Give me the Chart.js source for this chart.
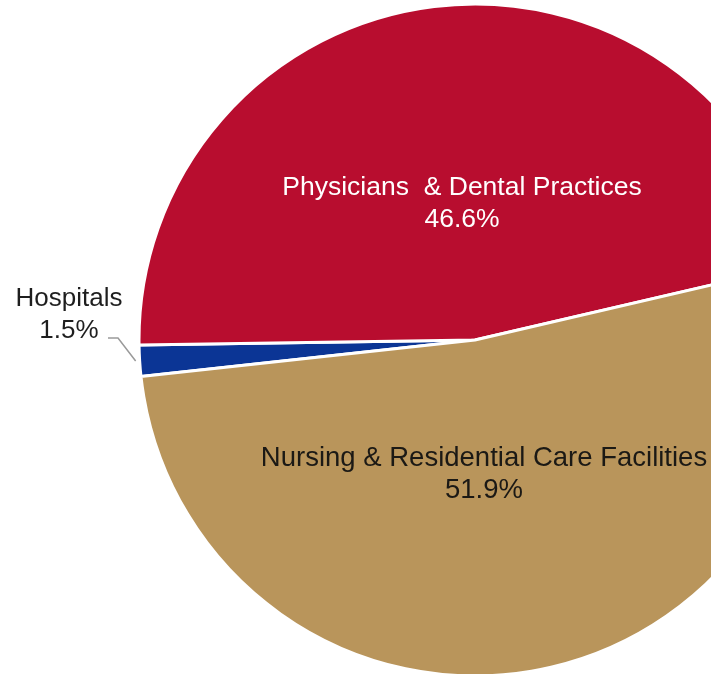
<!DOCTYPE html>
<html>
<head>
<meta charset="utf-8">
<title>Share by provider type</title>
<script src="https://cdn.jsdelivr.net/npm/chart.js@4.4.1/dist/chart.umd.min.js"></script>
<style>
    html, body {
        margin: 0;
        padding: 0;
        width: 711px;
        height: 674px;
        overflow: hidden;
        background: #ffffff;
    }
    .pie-wrap {
        position: absolute;
        left: 0;
        top: 0;
    }
</style>
</head>
<body>
<div class="pie-wrap">
    <canvas id="providerPie" width="950" height="680"></canvas>
</div>
<script>
// Provider categories and their shares (%)
const categories = ['Hospitals', 'Physicians & Dental Practices', 'Nursing & Residential Care Facilities'];
const shares = [1.5, 46.6, 51.9];
const sliceColors = ['#0b3595', '#b80d2f', '#b9955b'];

// Label text per slice: name lines, then the share
const labelLines = [
    ['Hospitals'],
    ['Physicians  & Dental Practices'],
    ['Nursing & Residential Care Facilities']
];

// where each label sits, relative to the pie centre (px)
const labelLayout = [
    { dx: -406, dy: -34, color: '#1e1e1e', size: 26 },
    { dx: -13, dy: -145, color: '#ffffff', size: 26.5 },
    { dx: 9, dy: 126, color: '#1b1915', size: 27.5 }
];

const lineGap = 32;

// Draws the slice labels and the leader line for the small slice
const sliceLabels = {
    id: 'sliceLabels',
    afterDatasetsDraw(chart) {
        const { ctx } = chart;
        const arcs = chart.getDatasetMeta(0).data;
        const cx = arcs[0].x;
        const cy = arcs[0].y;

        ctx.save();
        ctx.textAlign = 'center';
        ctx.textBaseline = 'alphabetic';

        labelLayout.forEach((pos, i) => {
            const x = cx + pos.dx;
            let y = cy + pos.dy;
            ctx.fillStyle = pos.color;
            ctx.font = `${pos.size}px "Liberation Sans", Arial, sans-serif`;
            labelLines[i].forEach(line => {
                ctx.fillText(line, x, y);
                y += lineGap;
            });
            ctx.fillText(shares[i].toFixed(1) + '%', x, y);
        });

        // leader from the Hospitals label to its slice
        const r = arcs[0].outerRadius + 4;
        const mid = (arcs[0].startAngle + arcs[0].endAngle) / 2;
        const tipX = cx + Math.cos(mid) * r;
        const tipY = cy + Math.sin(mid) * r;
        const startX = cx + labelLayout[0].dx + 39;
        const startY = cy + labelLayout[0].dy + lineGap;
        ctx.strokeStyle = '#9a9a9a';
        ctx.lineWidth = 1.5;
        ctx.beginPath();
        ctx.moveTo(startX, startY);
        ctx.lineTo(startX + 10, startY);
        ctx.lineTo(tipX, tipY);
        ctx.stroke();
        ctx.restore();
    }
};

new Chart(document.getElementById('providerPie'), {
    type: 'pie',
    data: {
        labels: categories,
        datasets: [{
            data: shares,
            backgroundColor: sliceColors,
            borderColor: '#ffffff',
            borderWidth: 3,
            radius: 336
        }]
    },
    options: {
        responsive: false,
        animation: false,
        rotation: 263.75,
        layout: { padding: 0 },
        plugins: {
            legend: { display: false },
            tooltip: { enabled: false }
        }
    },
    plugins: [sliceLabels]
});
</script>
</body>
</html>
